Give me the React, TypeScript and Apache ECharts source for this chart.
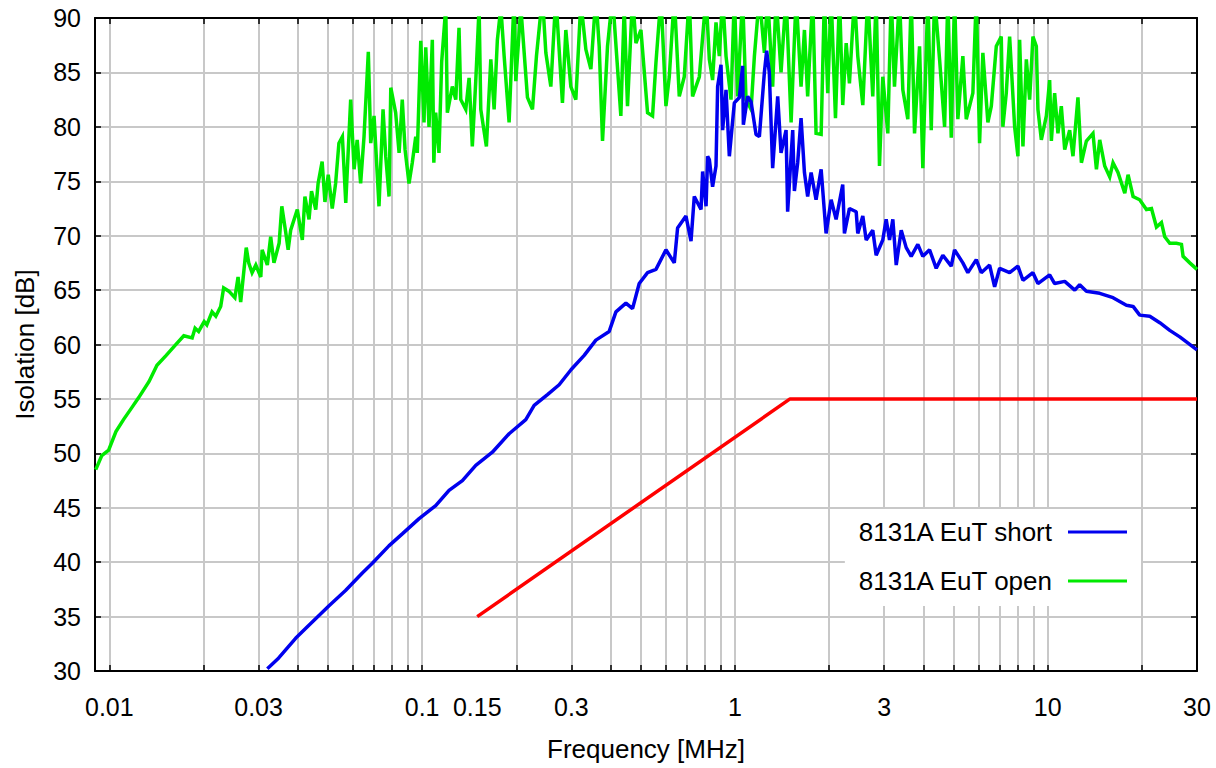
import React, { useEffect, useRef } from "react";
import * as echarts from "echarts";

// ---- data (frequency in MHz, isolation in dB) ----
const xTickLabels = [0.01, 0.03, 0.1, 0.15, 0.3, 1, 3, 10, 30];
const xGridFreqs = [
  0.01, 0.02, 0.03, 0.04, 0.05, 0.06, 0.07, 0.08, 0.09,
  0.1, 0.2, 0.3, 0.4, 0.5, 0.6, 0.7, 0.8, 0.9,
  1, 2, 3, 4, 5, 6, 7, 8, 9,
  10, 20, 30,
];
const xMin = 0.009;
const xMax = 30;
const yMin = 30;
const yMax = 90;
const yStep = 5;

const seriesNames = ["8131A EuT short", "8131A EuT open"];

const shortFreq = [
  0.032, 0.0348, 0.0394, 0.0424, 0.0468, 0.0504, 0.0569, 0.0644, 0.0693, 0.0783,
  0.0864, 0.0978, 0.1105, 0.1219, 0.1345, 0.1484, 0.1677, 0.1897, 0.2145, 0.2281,
  0.2516, 0.2742, 0.2996, 0.3297, 0.3593, 0.3963, 0.4164, 0.4482, 0.4706, 0.4943,
  0.5256, 0.5591, 0.6018, 0.6399, 0.6556, 0.6973, 0.7237, 0.7414, 0.7791, 0.7883,
  0.8085, 0.8179, 0.8282, 0.8483, 0.8699, 0.8804, 0.9026, 0.9134, 0.9365, 0.9596,
  0.9956, 1.033, 1.058, 1.064, 1.098, 1.126, 1.168, 1.197, 1.242, 1.263,
  1.288, 1.32, 1.37, 1.404, 1.457, 1.474, 1.53, 1.549, 1.587, 1.627,
  1.668, 1.708, 1.752, 1.817, 1.886, 1.956, 2.03, 2.106, 2.211, 2.239,
  2.323, 2.441, 2.47, 2.563, 2.628, 2.758, 2.828, 2.969, 3.044, 3.12,
  3.197, 3.278, 3.401, 3.528, 3.66, 3.843, 3.987, 4.19, 4.4, 4.62,
  4.915, 5.036, 5.353, 5.554, 5.909, 6.131, 6.519, 6.764, 7.017, 7.553,
  8.03, 8.331, 8.966, 9.303, 10.14, 10.52, 11.33, 12.2, 12.65, 13.29,
  14.66, 16.17, 17.84, 18.74, 19.68, 21.19, 22.81, 24.55, 26.43, 30,
];
const shortDb = [
  30.2, 31.2, 33.0, 33.9, 35.1, 36.0, 37.4, 39.0, 39.9, 41.5,
  42.6, 44.0, 45.2, 46.6, 47.5, 48.9, 50.1, 51.8, 53.1, 54.4,
  55.4, 56.3, 57.7, 59.0, 60.4, 61.2, 63.0, 63.8, 63.3, 65.6,
  66.6, 66.9, 68.7, 67.5, 70.7, 71.8, 69.5, 73.6, 72.4, 75.9,
  72.7, 77.3, 77.0, 74.5, 76.4, 83.7, 85.7, 79.7, 83.4, 77.3,
  82.2, 82.7, 85.6, 80.2, 82.8, 82.3, 79.3, 79.1, 85.0, 87.0,
  85.0, 76.2, 82.8, 77.6, 79.7, 72.2, 79.7, 74.1, 76.7, 80.8,
  75.8, 73.6, 75.8, 73.3, 76.1, 70.2, 73.3, 71.5, 74.7, 70.2,
  72.5, 72.2, 70.2, 71.8, 69.6, 70.5, 68.2, 69.6, 71.5, 69.6,
  71.5, 67.3, 70.5, 68.9, 68.1, 69.2, 68.1, 68.7, 67.0, 68.2,
  67.2, 68.7, 67.5, 66.6, 67.8, 66.6, 67.3, 65.3, 67.0, 66.6,
  67.2, 65.9, 66.6, 65.6, 66.4, 65.6, 65.8, 65.0, 65.5, 64.9,
  64.7, 64.3, 63.6, 63.5, 62.7, 62.6, 62.0, 61.3, 60.7, 59.5,
];

const openFreq = [
  0.00905, 0.00946, 0.00995, 0.0105, 0.0111, 0.0118, 0.0124, 0.0134, 0.0142, 0.0152,
  0.0162, 0.0173, 0.0184, 0.0188, 0.0193, 0.0201, 0.0205, 0.0213, 0.0219, 0.0227,
  0.0232, 0.0241, 0.0252, 0.0258, 0.0263, 0.0274, 0.0279, 0.0286, 0.0294, 0.0305,
  0.0308, 0.032, 0.0328, 0.0336, 0.0349, 0.0356, 0.0366, 0.0373, 0.038, 0.0399,
  0.0414, 0.0422, 0.0435, 0.0443, 0.0457, 0.0465, 0.0479, 0.0489, 0.0501, 0.0516,
  0.0529, 0.0542, 0.0556, 0.057, 0.0591, 0.0606, 0.062, 0.0636, 0.0652, 0.0673,
  0.0685, 0.0702, 0.0728, 0.075, 0.0765, 0.0784, 0.0794, 0.0823, 0.0844, 0.0864,
  0.0882, 0.0908, 0.093, 0.0954, 0.0965, 0.099, 0.1014, 0.1027, 0.1052, 0.1078,
  0.109, 0.1105, 0.1132, 0.1155, 0.119, 0.1204, 0.1249, 0.1281, 0.1312, 0.1329,
  0.1379, 0.1413, 0.1447, 0.1484, 0.1521, 0.154, 0.1605, 0.1658, 0.1699, 0.174,
  0.1785, 0.1829, 0.1897, 0.1968, 0.1993, 0.2068, 0.2171, 0.2253, 0.232, 0.2424,
  0.2486, 0.2579, 0.2676, 0.2809, 0.288, 0.2988, 0.31, 0.3217, 0.3338, 0.3463,
  0.3593, 0.3682, 0.3773, 0.3914, 0.4062, 0.4318, 0.4426, 0.4535, 0.4706, 0.4825,
  0.5006, 0.5256, 0.5453, 0.5591, 0.5801, 0.6018, 0.6167, 0.6399, 0.6638, 0.6887,
  0.7145, 0.732, 0.7694, 0.8085, 0.8282, 0.8483, 0.8699, 0.8914, 0.9134, 0.9365,
  0.9716, 0.9956, 1.02, 1.058, 1.085, 1.126, 1.154, 1.197, 1.242, 1.272,
  1.32, 1.354, 1.404, 1.457, 1.512, 1.569, 1.627, 1.668, 1.708, 1.773,
  1.817, 1.886, 1.932, 1.98, 2.03, 2.096, 2.159, 2.211, 2.268, 2.323,
  2.411, 2.47, 2.563, 2.659, 2.758, 2.828, 2.898, 2.969, 3.081, 3.159,
  3.236, 3.358, 3.441, 3.57, 3.66, 3.751, 3.892, 3.987, 4.137, 4.242,
  4.347, 4.51, 4.68, 4.794, 4.915, 5.036, 5.16, 5.353, 5.489, 5.762,
  5.909, 6.054, 6.203, 6.436, 6.6, 6.847, 7.102, 7.186, 7.369, 7.553,
  7.837, 8.03, 8.13, 8.331, 8.542, 8.752, 8.967, 9.194, 9.303, 9.539,
  9.897, 10.14, 10.27, 10.52, 10.78, 11.05, 11.33, 11.75, 12.04, 12.49,
  12.81, 13.29, 13.95, 14.31, 14.66, 15.21, 15.78, 16.17, 16.77, 17.63,
  18.06, 18.74, 19.68, 20.68, 21.46, 22.26, 23.09, 23.66, 24.55, 25.79,
  26.76, 27.08, 28.45, 30,
];
const openDb = [
  48.5, 49.8, 50.3, 52.0, 53.1, 54.2, 55.1, 56.6, 58.1, 59.0,
  59.9, 60.8, 60.6, 61.5, 61.2, 62.1, 61.8, 63.0, 62.6, 63.5,
  65.2, 64.9, 64.3, 66.2, 63.9, 68.9, 67.5, 66.6, 67.3, 66.2,
  68.7, 67.3, 69.9, 67.5, 69.3, 72.7, 70.4, 68.7, 70.5, 72.4,
  69.6, 73.6, 71.5, 74.1, 72.4, 74.8, 76.8, 73.1, 75.6, 72.5,
  74.8, 78.5, 79.1, 73.0, 82.5, 76.1, 78.8, 74.8, 79.1, 86.9,
  78.5, 81.0, 72.7, 81.6, 77.3, 73.6, 83.6, 81.3, 77.6, 82.5,
  77.9, 74.8, 76.7, 79.1, 77.6, 87.9, 80.4, 87.3, 80.0, 88.0,
  76.7, 81.3, 77.6, 86.0, 91.0, 81.3, 83.7, 82.5, 89.1, 82.5,
  81.6, 84.5, 78.2, 84.2, 91.0, 81.6, 78.2, 86.2, 81.6, 88.0,
  91.0, 86.5, 80.4, 92.0, 84.2, 91.0, 82.7, 81.6, 86.5, 92.0,
  86.8, 83.7, 92.0, 82.2, 88.9, 83.7, 82.5, 91.5, 87.1, 85.3,
  92.0, 87.4, 78.7, 87.4, 92.0, 81.0, 91.0, 81.9, 92.0, 87.7,
  88.9, 81.3, 81.0, 85.9, 92.0, 81.9, 84.6, 92.0, 82.8, 84.6,
  92.0, 82.8, 84.6, 92.0, 86.2, 84.3, 89.6, 86.5, 92.0, 86.5,
  82.5, 92.0, 82.8, 92.0, 82.5, 81.6, 86.5, 92.0, 86.8, 92.0,
  83.7, 92.0, 85.0, 92.0, 80.4, 92.0, 83.7, 88.9, 82.8, 92.0,
  79.4, 79.3, 92.0, 83.1, 92.0, 80.8, 92.0, 82.0, 87.7, 84.0,
  92.0, 86.5, 82.0, 92.0, 82.8, 92.0, 76.4, 84.6, 79.4, 92.0,
  83.7, 92.0, 83.4, 80.7, 92.0, 79.4, 87.4, 76.2, 92.0, 79.7,
  92.0, 86.2, 80.0, 92.0, 79.0, 92.0, 80.7, 86.5, 80.7, 83.1,
  92.0, 78.5, 86.8, 80.4, 81.9, 87.4, 88.3, 80.0, 83.1, 88.3,
  80.0, 77.3, 88.0, 78.2, 86.2, 82.5, 88.3, 87.4, 81.6, 78.8,
  81.0, 84.3, 78.7, 83.1, 79.4, 81.9, 77.9, 79.7, 77.3, 82.7,
  76.7, 78.7, 79.4, 76.1, 78.8, 76.4, 75.4, 76.7, 75.8, 73.9,
  75.6, 73.6, 73.3, 72.4, 72.5, 70.8, 71.2, 69.9, 69.3, 69.3,
  69.2, 68.1, 67.5, 66.9,
];

const limitFreq = [0.15, 1.5, 30];
const limitDb = [35, 55, 55];

// ---- helpers ----
const lg = (f: number) => Math.log10(f);
const toPairs = (fs: number[], vs: number[]) => fs.map((f, i) => [lg(f), vs[i]]);
const FONT = "'Liberation Sans', Arial, Helvetica, sans-serif";
const FS = 25;
const FS_NAME = 26;

export default function App() {
  const ref = useRef<HTMLDivElement>(null);

  useEffect(() => {
    if (!ref.current) return;
    const chart = echarts.init(ref.current, undefined, { renderer: "svg" });

    const tickVals = xGridFreqs.map(lg);
    const labelVals = xTickLabels.map(lg);
    const axisLineStyle = { color: "#000", width: 2 };
    const tickStyle = { color: "#000", width: 1.5 };
    const gridLineStyle = { color: "#c8c8c8", width: 2 };

    const option: any = {
      animation: false,
      textStyle: { fontFamily: FONT },
      grid: { left: 95, top: 18, width: 1102, height: 653, containLabel: false },
      legend: {
        data: seriesNames,
        orient: "vertical",
        align: "right",
        right: 75,
        top: 509,
        backgroundColor: "#ffffff",
        padding: [10, 14, 12, 12],
        itemGap: 23,
        itemWidth: 59,
        itemHeight: 3,
        icon: "rect",
        selectedMode: false,
        textStyle: { fontSize: FS_NAME, color: "#000", fontFamily: FONT, padding: [0, 11, 0, 0] },
      },
      xAxis: [
        {
          type: "value",
          position: "bottom",
          min: lg(xMin),
          max: lg(xMax),
          name: "Frequency [MHz]",
          nameLocation: "middle",
          nameGap: 65,
          nameTextStyle: { fontSize: FS_NAME, color: "#000", fontFamily: FONT },
          axisLine: { show: true, onZero: false, lineStyle: axisLineStyle },
          axisTick: { show: true, inside: true, length: 6, customValues: tickVals, lineStyle: tickStyle },
          axisLabel: {
            customValues: labelVals,
            formatter: (v: number) => String(Number(Math.pow(10, v).toPrecision(2))),
            fontSize: FS,
            color: "#000",
            fontFamily: FONT,
            margin: 23,
          },
          splitLine: { show: true, lineStyle: gridLineStyle },
        },
        {
          type: "value",
          position: "top",
          min: lg(xMin),
          max: lg(xMax),
          axisLine: { show: true, onZero: false, lineStyle: axisLineStyle },
          axisTick: { show: true, inside: true, length: 6, customValues: tickVals, lineStyle: tickStyle },
          axisLabel: { show: false },
          splitLine: { show: false },
        },
      ],
      yAxis: [
        {
          type: "value",
          position: "left",
          min: yMin,
          max: yMax,
          interval: yStep,
          name: "Isolation [dB]",
          nameLocation: "middle",
          nameGap: 57,
          nameTextStyle: { fontSize: FS_NAME, color: "#000", fontFamily: FONT },
          axisLine: { show: true, onZero: false, lineStyle: axisLineStyle },
          axisTick: { show: true, inside: true, length: 6, lineStyle: tickStyle },
          axisLabel: { fontSize: FS, color: "#000", fontFamily: FONT, margin: 14 },
          splitLine: { show: true, lineStyle: gridLineStyle },
        },
        {
          type: "value",
          position: "right",
          min: yMin,
          max: yMax,
          interval: yStep,
          axisLine: { show: true, onZero: false, lineStyle: axisLineStyle },
          axisTick: { show: true, inside: true, length: 6, lineStyle: tickStyle },
          axisLabel: { show: false },
          splitLine: { show: false },
        },
      ],
      series: [
        {
          name: seriesNames[1],
          type: "line",
          data: toPairs(openFreq, openDb),
          showSymbol: false,
          symbol: "none",
          lineStyle: { color: "#00ea00", width: 3.5, join: "miter" },
          itemStyle: { color: "#00ea00" },
          silent: true,
          z: 2,
        },
        {
          name: seriesNames[0],
          type: "line",
          data: toPairs(shortFreq, shortDb),
          showSymbol: false,
          symbol: "none",
          lineStyle: { color: "#0000ee", width: 3.5 },
          itemStyle: { color: "#0000ee" },
          silent: true,
          z: 3,
        },
        {
          name: "limit",
          type: "line",
          data: toPairs(limitFreq, limitDb),
          showSymbol: false,
          symbol: "none",
          lineStyle: { color: "#ff0000", width: 3.5 },
          itemStyle: { color: "#ff0000" },
          silent: true,
          z: 3,
        },
      ],
    };

    chart.setOption(option);
    return () => {
      chart.dispose();
    };
  }, []);

  return (
    <div
      ref={ref}
      style={{ position: "absolute", left: 0, top: 0, width: 1216, height: 768, background: "#fff" }}
    />
  );
}
